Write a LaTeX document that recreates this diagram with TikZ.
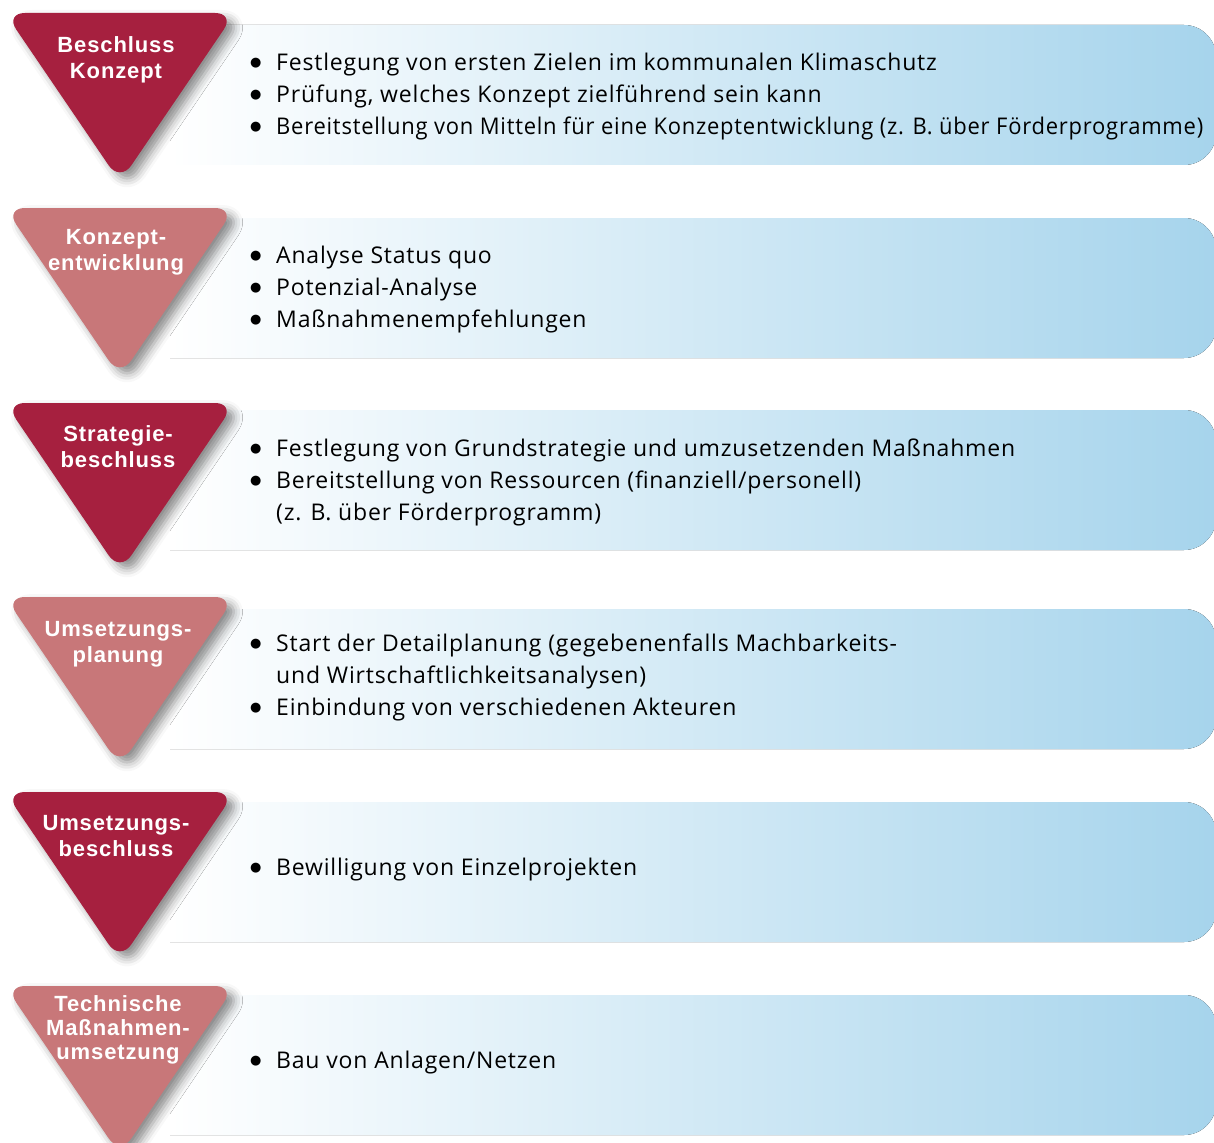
\documentclass[tikz,border=0pt]{standalone}
\usepackage{fontspec}
\setmainfont[LetterSpace=3.5]{Open Sans}
\newfontfamily\stufenfont[LetterSpace=4]{Liberation Sans}
\newfontfamily\punktfont{DejaVu Sans}
\usetikzlibrary{positioning,calc,shadows.blur}
\definecolor{dunkelrot}{HTML}{A6203F}
\definecolor{hellrot}{HTML}{C87779}
\definecolor{hellblau}{HTML}{A6D4EC}
\newcommand{\pkt}{\makebox[26pt][l]{\raisebox{4pt}{\punktfont\fontsize{13}{13}\selectfont ●}}}
\newcommand{\ein}{\hspace*{26pt}}
% Balken mit runden Ecken nur rechts
\newcommand{\balken}[1]{\fill[left color=white,right color=hellblau] (170,#1) -- (1184,#1)
  arc[start angle=-90,end angle=0,radius=32] -- (1216,#1+108)
  arc[start angle=0,end angle=90,radius=32] -- (170,#1+140) -- cycle;}

\begin{document}
\begin{tikzpicture}[x=1pt,y=-1pt,
    dreieck/.style={rounded corners=20pt,
      blur shadow={shadow xshift=7pt,shadow yshift=-6pt,shadow blur radius=9pt,shadow opacity=45}},
    stufe/.style={text=white,align=center,font=\stufenfont\bfseries\fontsize{22}{26}\selectfont,inner sep=0pt},
    inhalt/.style={anchor=west,align=left,font=\fontsize{23}{32}\selectfont,inner sep=0pt}]
  \useasboundingbox (0,0) rectangle (1214,1142);
  % Balken
  \balken{25}
  \balken{218}
  \balken{410}
  \balken{609}
  \balken{802}
  \balken{995}
  % Dreiecke
  \path[dreieck,fill=dunkelrot] (5,13) -- (235,13) -- (120,182) -- cycle;
  \path[dreieck,fill=hellrot] (5,208) -- (235,208) -- (120,377) -- cycle;
  \path[dreieck,fill=dunkelrot] (5,403) -- (235,403) -- (120,572) -- cycle;
  \path[dreieck,fill=hellrot] (5,597) -- (235,597) -- (120,766) -- cycle;
  \path[dreieck,fill=dunkelrot] (5,792) -- (235,792) -- (120,961) -- cycle;
  \path[dreieck,fill=hellrot] (5,986) -- (235,986) -- (120,1155) -- cycle;
  % Stufen
  \node[stufe] (beschluss) at (116,60) {Beschluss\\Konzept};
  \node[stufe] (entwicklung) at (116,252) {Konzept-\\entwicklung};
  \node[stufe] (strategie) at (118,447) {Strategie-\\beschluss};
  \node[stufe] (planung) at (118,644) {Umsetzungs-\\planung};
  \node[stufe] (umsetzung) at (116,836) {Umsetzungs-\\beschluss};
  \node[stufe,font=\stufenfont\bfseries\fontsize{22}{24}\selectfont] (technik) at (118,1030) {Technische\\Maßnahmen-\\umsetzung};
  % Inhalte
  \node[inhalt] (ziele) at (250,97) {\pkt Festlegung von ersten Zielen im kommunalen Klimaschutz\\
    \pkt Prüfung, welches Konzept zielführend sein kann\\
    \pkt\scalebox{0.955}[1]{Bereitstellung von Mitteln für eine Konzeptentwicklung (z. B. über Förderprogramme)}};
  \node[inhalt] (analyse) at (250,290) {\pkt Analyse Status quo\\
    \pkt Potenzial-Analyse\\
    \pkt Maßnahmenempfehlungen};
  \node[inhalt] (grundstrategie) at (250,482) {\pkt Festlegung von Grundstrategie und umzusetzenden Maßnahmen\\
    \pkt Bereitstellung von Ressourcen (finanziell/personell)\\
    \ein(z. B. über Förderprogramm)};
  \node[inhalt] (detail) at (250,677) {\pkt Start der Detailplanung (gegebenenfalls Machbarkeits-\\
    \ein und Wirtschaftlichkeitsanalysen)\\
    \pkt Einbindung von verschiedenen Akteuren};
  \node[inhalt] (projekte) at (250,870) {\pkt Bewilligung von Einzelprojekten};
  \node[inhalt] (anlagen) at (250,1063) {\pkt Bau von Anlagen/Netzen};
\end{tikzpicture}
\end{document}
